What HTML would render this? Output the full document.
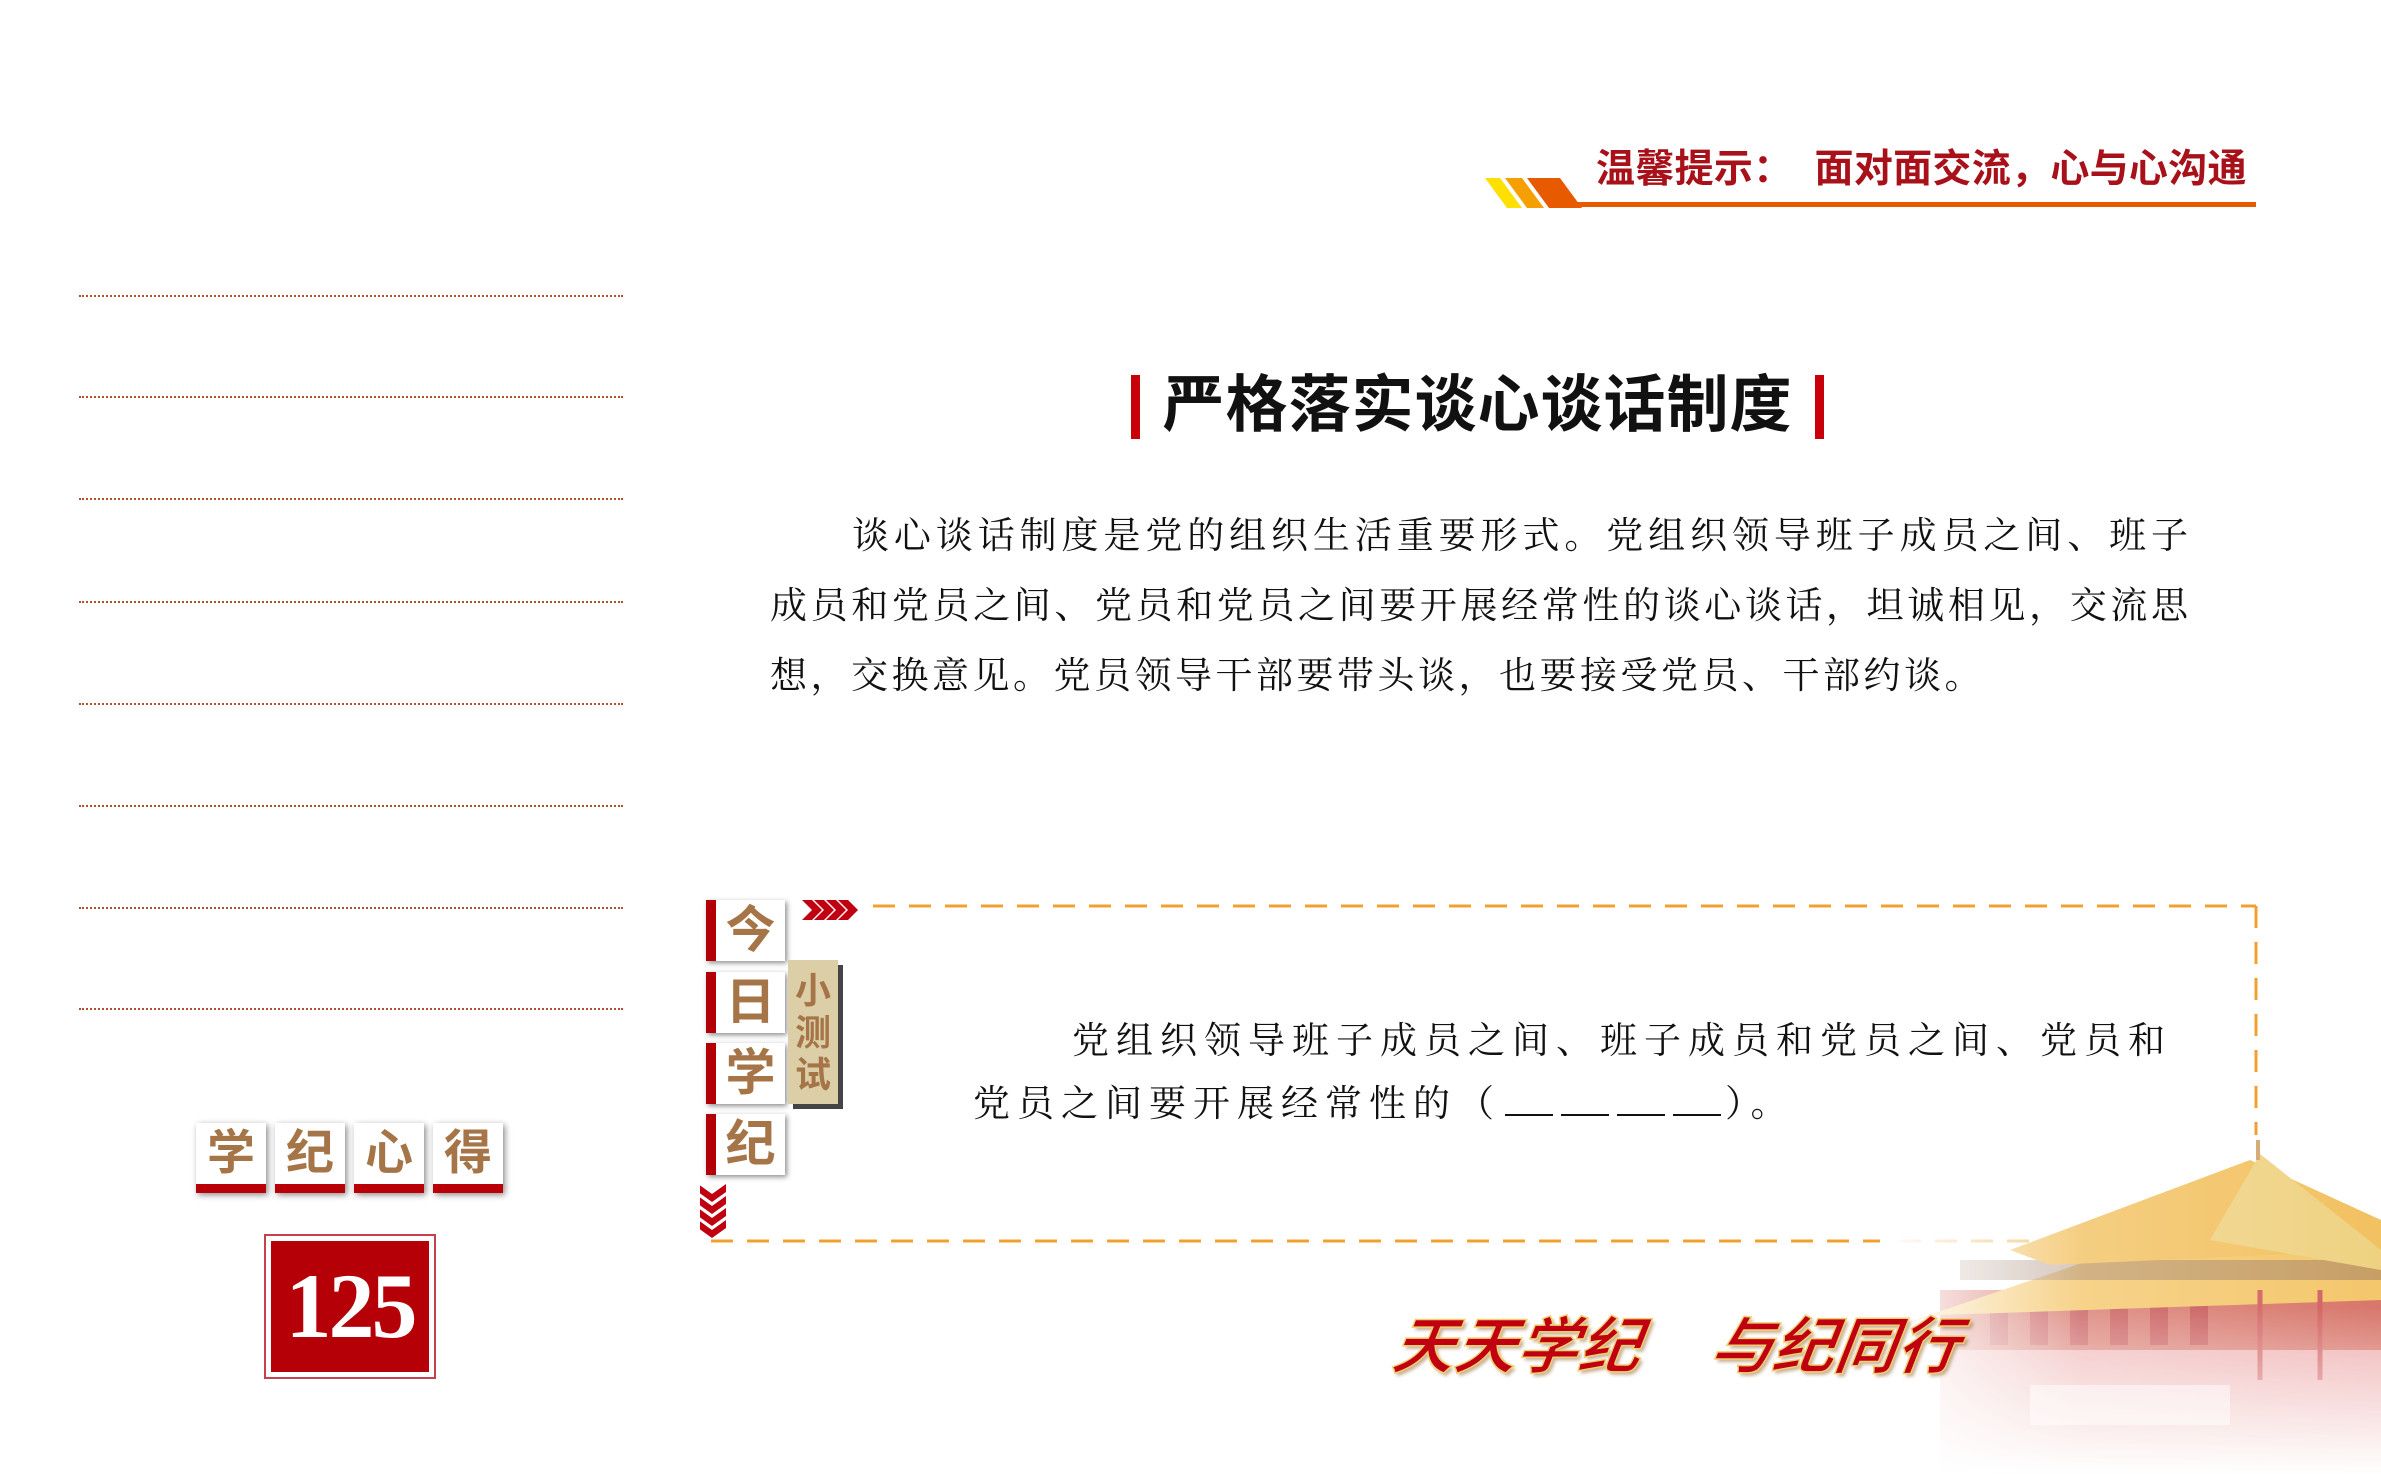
<!DOCTYPE html>
<html><head><meta charset="utf-8"><style>
*{margin:0;padding:0;box-sizing:border-box}
body{width:2381px;height:1474px;background:#fff;position:relative;overflow:hidden;font-family:"Liberation Sans","Noto Sans CJK SC",sans-serif}
.a{position:absolute}
.dot{position:absolute;left:79px;width:544px;border-top:2px dotted #b05030}
.serif{font-family:"Liberation Serif","Noto Serif CJK SC",serif}
.lab{position:absolute;left:706px;width:79px;height:61px;background:#fff;box-shadow:2px 2px 5px rgba(0,0,0,.45);border-left:10px solid #b30008;color:#a57548;font-weight:bold;font-size:50px;line-height:61px;text-align:center}
.xd{position:absolute;top:1123px;width:70px;height:70px;background:#fff;box-shadow:2px 2px 6px rgba(0,0,0,.45);border-bottom:9px solid #b80006;color:#a57548;font-weight:bold;font-size:48px;line-height:62px;text-align:center}
.pl{position:absolute;left:770px;width:1418px;font-size:37px;line-height:50px;color:#111;text-align:justify;text-align-last:justify;white-space:nowrap}
.bl{display:inline-block;width:48px;border-bottom:2px solid #111;margin:0 4px;height:30px}
</style></head><body>

<!-- header -->
<svg class="a" style="left:1480px;top:170px" width="110" height="40">
<polygon points="5,8 20,8 42,38 27,38" fill="#ffe000"/>
<polygon points="25,8 42,8 64,38 47,38" fill="#f5a000"/>
<polygon points="47,8 80,8 102,38 69,38" fill="#e85a00"/>
</svg>
<div class="a" style="left:1570px;top:202px;width:686px;height:5px;background:#e85a00"></div>
<div class="a" style="left:1596px;top:145px;font-size:39px;font-weight:bold;color:#a8101a;white-space:nowrap;line-height:50px;letter-spacing:0.3px">温馨提示：<span style="margin-left:22px">面对面交流，心与心沟通</span></div>

<!-- dotted lines -->
<div class="dot" style="top:295px"></div><div class="dot" style="top:396px"></div>
<div class="dot" style="top:498px"></div><div class="dot" style="top:601px"></div>
<div class="dot" style="top:703px"></div><div class="dot" style="top:805px"></div>
<div class="dot" style="top:907px"></div><div class="dot" style="top:1008px"></div>

<!-- title -->
<div class="a" style="left:1131px;top:375px;width:9px;height:64px;background:#c8000a"></div>
<div class="a" style="left:1815px;top:375px;width:9px;height:64px;background:#c8000a"></div>
<div class="a" style="left:1140px;top:368px;width:675px;text-align:center;font-size:62px;font-weight:bold;color:#111;line-height:76px;letter-spacing:1px">严格落实谈心谈话制度</div>

<!-- paragraph -->
<div class="pl serif" style="top:512px;left:852px;width:1336px">谈心谈话制度是党的组织生活重要形式。党组织领导班子成员之间、班子</div>
<div class="pl serif" style="top:582px">成员和党员之间、党员和党员之间要开展经常性的谈心谈话，坦诚相见，交流思</div>
<div class="pl serif" style="top:652px;text-align-last:left;letter-spacing:3.5px">想，交换意见。党员领导干部要带头谈，也要接受党员、干部约谈。</div>

<!-- quiz box -->
<svg class="a" style="left:700px;top:900px" width="1570" height="350">
<line x1="173" y1="6" x2="1556" y2="6" stroke="#f0a030" stroke-width="3" stroke-dasharray="22,14"/>
<line x1="1556" y1="6" x2="1556" y2="235" stroke="#f0a030" stroke-width="3" stroke-dasharray="22,14"/>
<line x1="11" y1="341" x2="1340" y2="341" stroke="#f0a030" stroke-width="3" stroke-dasharray="22,14"/>
<g fill="#c00010">
<polygon points="102,0 112,0 122,10 112,20 102,20 112,10"/>
<polygon points="114,0 124,0 134,10 124,20 114,20 124,10"/>
<polygon points="126,0 136,0 146,10 136,20 126,20 136,10"/>
<polygon points="138,0 148,0 158,10 148,20 138,20 148,10"/>
<polygon points="-2,284 12,294 26,284 26,292 12,302 -2,292"/>
<polygon points="-2,296 12,306 26,296 26,304 12,314 -2,304"/>
<polygon points="-2,308 12,318 26,308 26,316 12,326 -2,316"/>
<polygon points="-2,320 12,330 26,320 26,328 12,338 -2,328"/>
</g>
</svg>
<div class="lab" style="top:900px">今</div>
<div class="lab" style="top:972px">日</div>
<div class="lab" style="top:1043px">学</div>
<div class="lab" style="top:1114px">纪</div>
<div class="a" style="left:788px;top:960px;width:50px;height:144px;background:#dccfa8;box-shadow:5px 5px 0 #444;color:#a57548;font-weight:bold;font-size:36px;line-height:42px;text-align:center;padding-top:10px">小<br>测<br>试</div>

<div class="a serif" style="left:1072px;top:1015px;font-size:37px;letter-spacing:7px;color:#111;white-space:nowrap;line-height:54px">党组织领导班子成员之间、班子成员和党员之间、党员和</div>
<div class="a serif" style="left:973px;top:1078px;font-size:37px;letter-spacing:7px;color:#111;white-space:nowrap;line-height:54px">党员之间要开展经常性的（<span class="bl"></span><span class="bl"></span><span class="bl"></span><span class="bl"></span>）。</div>

<!-- 学纪心得 -->
<div class="xd" style="left:196px">学</div>
<div class="xd" style="left:275px">纪</div>
<div class="xd" style="left:354px">心</div>
<div class="xd" style="left:433px">得</div>
<div class="a" style="left:264px;top:1234px;width:172px;height:145px;border:2px solid #c84050;padding:5px">
<div style="width:100%;height:100%;background:#b50008;color:#fff;font-family:'Liberation Serif',serif;font-weight:bold;font-size:92px;text-align:center;line-height:131px;letter-spacing:-3px">125</div></div>

<!-- palace -->
<svg class="a" style="left:1880px;top:1140px" width="501" height="334">
<defs>
<linearGradient id="fl" x1="0" x2="1" y1="0" y2="0"><stop offset="0" stop-color="#fff" stop-opacity="1"/><stop offset=".4" stop-color="#fff" stop-opacity=".25"/><stop offset="1" stop-color="#fff" stop-opacity=".05"/></linearGradient>
<linearGradient id="fb" x1="0" x2="0" y1="0" y2="1"><stop offset=".5" stop-color="#fff" stop-opacity="0"/><stop offset="1" stop-color="#fff" stop-opacity="1"/></linearGradient>
</defs>
<rect x="60" y="210" width="441" height="124" fill="#e89090"/>
<rect x="60" y="150" width="441" height="60" fill="#c84030"/>
<g fill="#b01010">
<rect x="110" y="160" width="18" height="45"/><rect x="150" y="160" width="18" height="45"/><rect x="190" y="160" width="18" height="45"/><rect x="230" y="160" width="18" height="45"/><rect x="270" y="160" width="18" height="45"/><rect x="310" y="160" width="18" height="45"/></g>
<polygon points="20,185 240,110 501,110 501,160 60,175" fill="#f0b030"/>
<rect x="80" y="120" width="421" height="20" fill="#704020" opacity=".5"/>
<polygon points="130,110 370,20 501,80 501,110 170,125" fill="#eda820"/>
<polygon points="380,14 501,110 501,130 330,100" fill="#e8c050"/>
<line x1="378" y1="0" x2="378" y2="20" stroke="#c08030" stroke-width="4"/>
<line x1="440" y1="150" x2="440" y2="240" stroke="#c02020" stroke-width="5"/>
<line x1="380" y1="150" x2="380" y2="240" stroke="#c02020" stroke-width="5"/>
<rect x="150" y="245" width="200" height="40" fill="#fff" opacity=".5"/>
<rect x="0" y="0" width="501" height="334" fill="url(#fl)"/>
<rect x="0" y="0" width="501" height="334" fill="url(#fb)"/>
<rect x="0" y="0" width="501" height="334" fill="#fff" opacity=".25"/>
</svg>

<!-- slogan -->
<div class="a" style="left:1393px;top:1308px;font-size:62px;font-weight:bold;font-style:italic;color:#c00010;white-space:nowrap;line-height:80px;-webkit-text-stroke:1.5px #f0d070;text-shadow:3px 3px 3px rgba(150,100,40,.5);transform:skewX(-8deg)">天天学纪<span style="margin-left:70px">与纪同行</span></div>

</body></html>
